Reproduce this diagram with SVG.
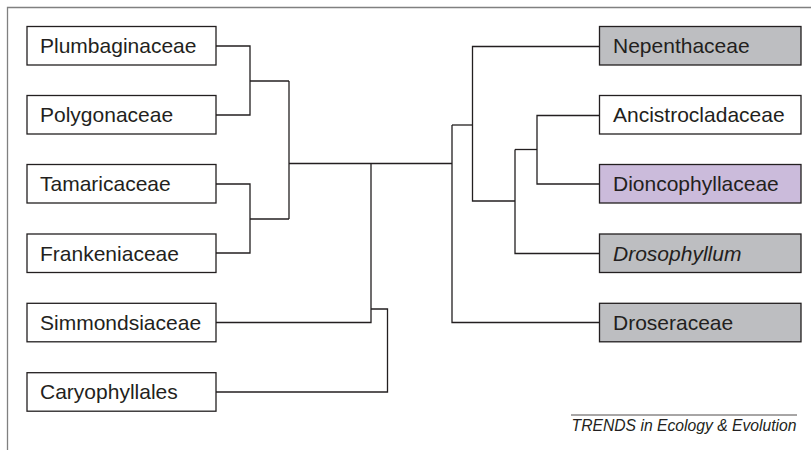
<svg xmlns="http://www.w3.org/2000/svg" width="811" height="450" viewBox="0 0 811 450">
<style>
.box{stroke:#231f20;stroke-width:1.3;fill:#ffffff}
.grey{fill:#bdbec1}
.purple{fill:#cbbbdb}
.lbl{font-family:"Liberation Sans",Arial,sans-serif;font-size:21px;fill:#231f20}
.it{font-style:italic}
.edge{fill:none;stroke:#231f20;stroke-width:1.3}
.frame{fill:none;stroke:#808080;stroke-width:1.3}
</style>
<rect width="811" height="450" fill="#ffffff"/>
<path class="frame" d="M7.5,450 V7.5 H811"/>
<g id="connectors">
<path class="edge" d="M216,46 H250 V115 H216"/>
<path class="edge" d="M250,81 H289"/>
<path class="edge" d="M216,184 H250 V253 H216"/>
<path class="edge" d="M250,219 H289"/>
<path class="edge" d="M289,81 V219"/>
<path class="edge" d="M289,163.5 H452"/>
<path class="edge" d="M371,163.5 V322.5 H216"/>
<path class="edge" d="M371,309 H387.5 V392 H216"/>
<path class="edge" d="M452,125 V322.5 H599.5"/>
<path class="edge" d="M452,125 H472.5"/>
<path class="edge" d="M599.5,46.5 H472.5 V201 H515"/>
<path class="edge" d="M515,149.5 V253.5 H599.5"/>
<path class="edge" d="M515,149.5 H537"/>
<path class="edge" d="M599.5,115.5 H537 V184 H599.5"/>
</g>
<g id="n-plumbaginaceae"><rect class="box" x="27" y="26.5" width="189" height="38.5"/><text class="lbl" x="40" y="53">Plumbaginaceae</text></g>
<g id="n-polygonaceae"><rect class="box" x="27" y="95.5" width="189" height="38.5"/><text class="lbl" x="40" y="122">Polygonaceae</text></g>
<g id="n-tamaricaceae"><rect class="box" x="27" y="164.5" width="189" height="38.5"/><text class="lbl" x="40" y="191">Tamaricaceae</text></g>
<g id="n-frankeniaceae"><rect class="box" x="27" y="234" width="189" height="38.5"/><text class="lbl" x="40" y="260.5">Frankeniaceae</text></g>
<g id="n-simmondsiaceae"><rect class="box" x="27" y="303.3" width="189" height="38.5"/><text class="lbl" x="40" y="329.8">Simmondsiaceae</text></g>
<g id="n-caryophyllales"><rect class="box" x="27" y="372.7" width="189" height="38.5"/><text class="lbl" x="40" y="399.2">Caryophyllales</text></g>
<g id="n-nepenthaceae"><rect class="box grey" x="599.5" y="26.5" width="201.5" height="38.5"/><text class="lbl" x="613" y="53">Nepenthaceae</text></g>
<g id="n-ancistrocladaceae"><rect class="box" x="599.5" y="95.5" width="201.5" height="38.5"/><text class="lbl" x="613" y="122">Ancistrocladaceae</text></g>
<g id="n-dioncophyllaceae"><rect class="box purple" x="599.5" y="164.5" width="201.5" height="38.5"/><text class="lbl" x="613" y="191">Dioncophyllaceae</text></g>
<g id="n-drosophyllum"><rect class="box grey" x="599.5" y="234" width="201.5" height="38.5"/><text class="lbl it" x="613" y="260.5">Drosophyllum</text></g>
<g id="n-droseraceae"><rect class="box grey" x="599.5" y="303.3" width="201.5" height="38.5"/><text class="lbl" x="613" y="329.8">Droseraceae</text></g>
<g id="footer">
<line x1="571" y1="415" x2="797" y2="415" stroke="#231f20" stroke-width="0.8"/>
<text x="796.5" y="431" text-anchor="end" font-family="'Liberation Sans',Arial,sans-serif" font-size="15.7" font-style="italic" fill="#231f20">TRENDS in Ecology &amp; Evolution</text>
</g>
</svg>
